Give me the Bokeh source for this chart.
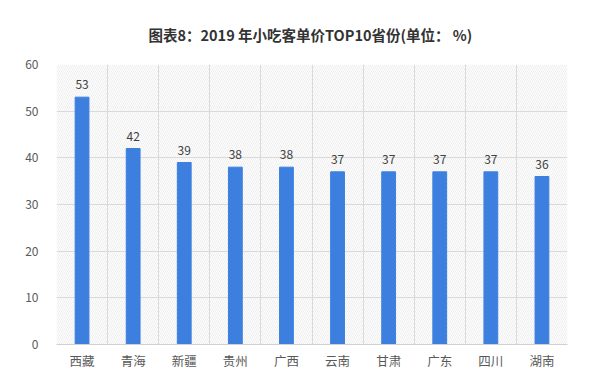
from bokeh.plotting import figure
from bokeh.models import ColumnDataSource, FixedTicker, BoxAnnotation, LabelSet, Range1d
from bokeh.core.properties import value
from bokeh.embed import file_html
from bokeh.resources import INLINE

title_text = "图表8：2019 年小吃客单价TOP10省份(单位：  %)"
categories = ["西藏", "青海", "新疆", "贵州", "广西", "云南", "甘肃", "广东", "四川", "湖南"]
values = [53, 42, 39, 38, 38, 37, 37, 37, 37, 36]
y_ticks = [0, 10, 20, 30, 40, 50, 60]

xs = list(range(1, len(categories) + 1))
src = ColumnDataSource(dict(x=xs, v=values, lab=[str(v) for v in values]))

FONT = "Noto Sans CJK SC"

p = figure(width=600, height=372, output_backend="svg", toolbar_location=None,
           x_range=Range1d(0.5, len(categories) + 0.5), y_range=Range1d(0, 60),
           min_border_left=56, min_border_right=33, min_border_top=64, min_border_bottom=28)
p.outline_line_color = None
p.background_fill_color = "white"

p.title.text = title_text
p.title.align = "center"
p.title.text_font = FONT
p.title.text_font_size = "14.5px"
p.title.text_font_style = "bold"
p.title.text_color = "#333333"
p.title.offset = 0
p.title.standoff = 40

hatch = BoxAnnotation(left=0.5, right=len(categories) + 0.5, bottom=0, top=60,
                      fill_alpha=0, line_color=None,
                      hatch_pattern="\\", hatch_color="#dcdcdc", hatch_alpha=1.0,
                      hatch_scale=4, hatch_weight=0.5, level="underlay")
p.add_layout(hatch)

p.vbar(x="x", top="v", width=0.27, source=src, color="#3c7fdf")

labels = LabelSet(x="x", y="v", text="lab", source=src, text_align="center",
                  text_baseline="bottom", y_offset=8, text_font=value(FONT),
                  text_font_size=value("12px"), text_color="#404040")
p.add_layout(labels)

# axes
p.xaxis.ticker = FixedTicker(ticks=xs)
p.xaxis.major_label_overrides = {x: c for x, c in zip(xs, categories)}
p.xaxis.major_tick_line_color = None
p.xaxis.minor_tick_line_color = None
p.xaxis.axis_line_color = "#d0d0d0"
p.xaxis.major_label_text_font = FONT
p.xaxis.major_label_text_font_size = "12.5px"
p.xaxis.major_label_text_color = "#595959"
p.xaxis.major_label_standoff = 0

p.yaxis.ticker = FixedTicker(ticks=y_ticks)
p.yaxis.major_tick_line_color = None
p.yaxis.minor_tick_line_color = None
p.yaxis.axis_line_color = None
p.yaxis.major_label_text_font = FONT
p.yaxis.major_label_text_font_size = "12px"
p.yaxis.major_label_text_color = "#595959"
p.yaxis.major_label_standoff = 12

p.xgrid.ticker = FixedTicker(ticks=[x + 0.5 for x in range(0, len(categories) + 1)])
p.xgrid.grid_line_color = "#d9d9d9"
p.ygrid.grid_line_color = "#d9d9d9"

open("out.html", "w").write(file_html(p, INLINE))
